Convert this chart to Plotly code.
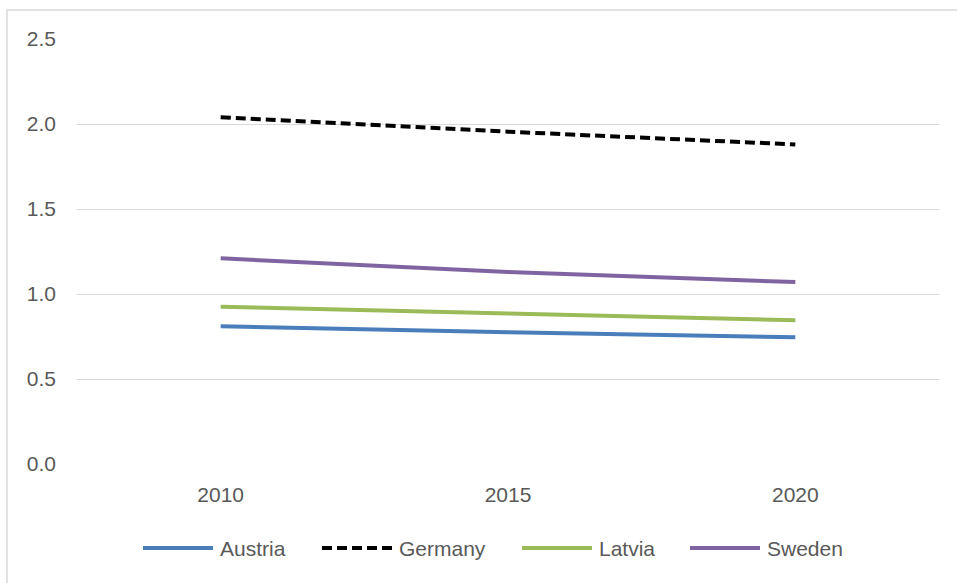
import plotly.graph_objects as go

years = ["2010", "2015", "2020"]
austria = [0.81, 0.775, 0.745]
germany = [2.04, 1.955, 1.88]
latvia = [0.925, 0.885, 0.845]
sweden = [1.21, 1.13, 1.07]

y_ticks = [0.0, 0.5, 1.0, 1.5, 2.0, 2.5]

series = [
    ("Austria", austria, dict(color="#4A7EBB", width=4)),
    ("Germany", germany, dict(color="#000000", width=4, dash="10px,5px")),
    ("Latvia", latvia, dict(color="#9BBB59", width=4)),
    ("Sweden", sweden, dict(color="#8064A2", width=4)),
]

W, H = 957, 583
ML, MR, MT, MB = 77, 18, 39, 119
pw, ph = W - ML - MR, H - MT - MB


def px_x(x):
    return (x - ML) / pw


def px_y(y):
    return (H - MB - y) / ph


fig = go.Figure()
for name, vals, line in series:
    fig.add_trace(go.Scatter(
        x=years, y=vals, name=name, mode="lines",
        line=dict(shape="spline", smoothing=0.6, **line),
        showlegend=False,
    ))

font = dict(family="Liberation Sans, Arial, sans-serif", size=21, color="#595959")

# chart border (top and left edges visible)
fig.add_shape(type="rect", xref="paper", yref="paper",
              x0=px_x(7), x1=px_x(W + 10),
              y0=px_y(H + 10), y1=px_y(10),
              line=dict(color="#D9D9D9", width=1.5), fillcolor="rgba(0,0,0,0)",
              layer="below")

# legend row below the plot: long line samples followed by the series name
legend_left = [143, 322, 522, 690]
legend_y = 548
sample_len = 70
for (name, _, line), lx in zip(series, legend_left):
    fig.add_shape(type="line", xref="paper", yref="paper",
                  x0=px_x(lx), x1=px_x(lx + sample_len),
                  y0=px_y(legend_y), y1=px_y(legend_y),
                  line=line)
    fig.add_annotation(xref="paper", yref="paper",
                       x=px_x(lx + sample_len + 5), y=px_y(legend_y),
                       xanchor="left", yanchor="middle",
                       text=name, showarrow=False, font=font)

fig.update_layout(
    width=W, height=H,
    margin=dict(l=ML, r=MR, t=MT, b=MB),
    paper_bgcolor="white", plot_bgcolor="white",
    font=font,
    xaxis=dict(type="category", range=[-0.5, 2.5], showgrid=False,
               showline=False, zeroline=False, ticks="",
               ticklabelstandoff=16, tickfont=font),
    yaxis=dict(range=[0, 2.5], tickvals=y_ticks, tickformat=".1f",
               showgrid=True, gridcolor="#D9D9D9", gridwidth=1,
               zeroline=False, showline=False, ticks="",
               ticklabelstandoff=20, tickfont=font),
    showlegend=False,
)

fig.write_html("out.html")
